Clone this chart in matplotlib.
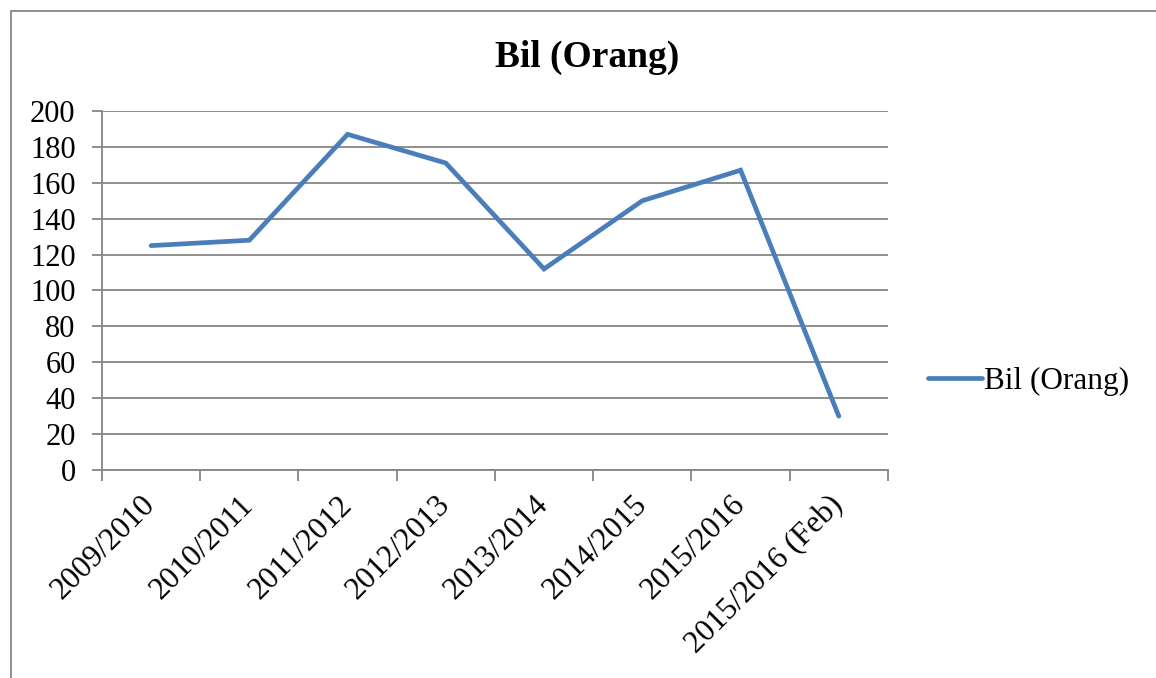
import matplotlib.pyplot as plt
from matplotlib.patches import Rectangle
from matplotlib.ticker import FixedLocator

tahun = ['2009/2010', '2010/2011', '2011/2012', '2012/2013',
         '2013/2014', '2014/2015', '2015/2016', '2015/2016 (Feb)']
bil_orang = [125, 128, 187, 171, 112, 150, 167, 30]

plt.rcParams['font.family'] = ['Liberation Serif', 'DejaVu Serif']

fig = plt.figure(figsize=(11.56, 6.78), dpi=100)
ax = fig.add_axes([0.0882, 0.3068, 0.6799, 0.5295])

pos = list(range(len(tahun)))
ax.plot(pos, bil_orang, color='#4A7EBB', linewidth=3.4, label='Bil (Orang)',
        solid_capstyle='round', solid_joinstyle='miter')

ax.set_xlim(-0.5, len(tahun) - 0.5)
ax.set_ylim(0, 200)
ax.set_yticks(range(0, 201, 20))
ax.yaxis.grid(True, color='#868686', linewidth=1.3)
ax.set_axisbelow(True)

ax.set_xticks(pos)
ax.set_xticklabels(tahun, rotation=45, ha='right', va='center', rotation_mode='anchor')
ax.xaxis.set_minor_locator(FixedLocator([p - 0.5 for p in range(len(tahun) + 1)]))
ax.tick_params(axis='x', which='major', length=0, pad=22, labelsize=22.5)
ax.tick_params(axis='x', which='minor', length=8, color='#868686', width=1.3)
ax.tick_params(axis='y', length=7, color='#868686', width=1.3, labelsize=22, pad=12)

for s in ['top', 'right']:
    ax.spines[s].set_visible(False)
for s in ['left', 'bottom']:
    ax.spines[s].set_color('#868686')
    ax.spines[s].set_linewidth(1.3)

fig.text(0.508, 1 - 57 / 678, 'Bil (Orang)', ha='center', va='center',
         fontsize=27, fontweight='bold')

fig.legend(loc='center left', bbox_to_anchor=(0.792, 1 - 381 / 678), frameon=False,
           fontsize=22.5, handlelength=1.73, handletextpad=0.06, borderaxespad=0)

fig.patches.append(Rectangle((11 / 1156, -0.05), 1.1, 1 - 11 / 678 + 0.05,
                             transform=fig.transFigure, fill=False,
                             edgecolor='#868686', linewidth=1.3))

fig.savefig('out.png', dpi=100)
